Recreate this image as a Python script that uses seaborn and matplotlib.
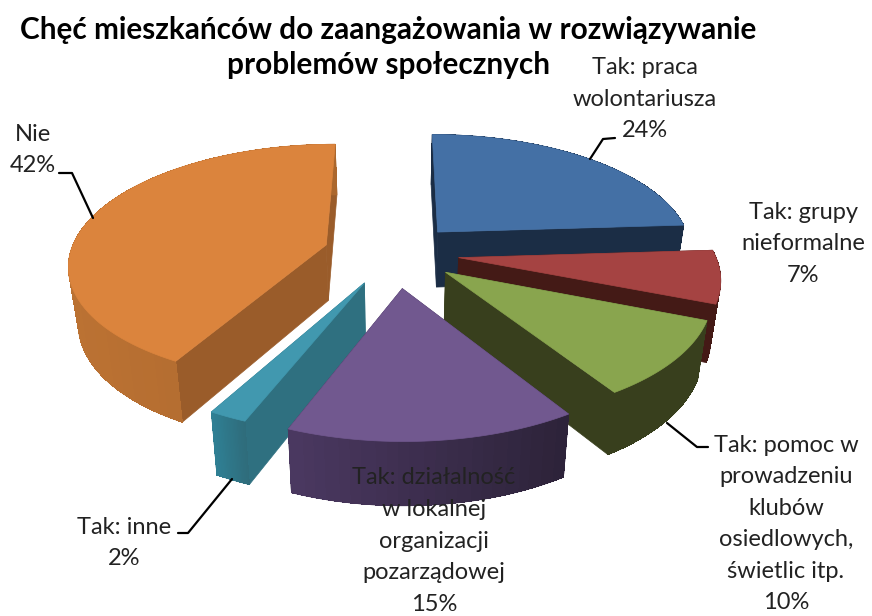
"""Exploded 3D pie of willingness to engage in solving social problems."""
import numpy as np
import matplotlib
matplotlib.use("Agg")
import matplotlib.pyplot as plt
import seaborn as sns

TITLE_LINES = [
    "Chęć mieszkańców do zaangażowania w rozwiązywanie",
    "problemów społecznych",
]
CATEGORIES = [
    "Tak: praca\nwolontariusza",
    "Tak: grupy\nnieformalne",
    "Tak: pomoc w\nprowadzeniu\nklubów\nosiedlowych,\nświetlic itp.",
    "Tak: działalność\nw lokalnej\norganizacji\npozarządowej",
    "Tak: inne",
    "Nie",
]
VALUES = [24, 7, 10, 15, 2, 42]
EXPLODE = [0.25, 0.25, 0.25, 0.29, 0.27, 0.28]

# Slice colours: top face, radial wall, rim wall left end, rim wall right end.
TOP_COLORS = ["#4470a5", "#a54342", "#89a54e", "#71588f", "#4198af", "#db843d"]
WALL_COLORS = ["#1b2d45", "#441a16", "#383f1d", "#3a2b4e", "#2f7080", "#9a5c2a"]
RIM_LEFT = ["#1b2d45", "#441a16", "#383f1d", "#4a3860", "#2f7f93", "#bb7233"]
RIM_RIGHT = ["#1b2d45", "#441a16", "#383f1d", "#2c2238", "#2f6b7a", "#aa662d"]

# Order the slices are painted in, back to front.
DRAW_ORDER = [0, 5, 1, 2, 4, 3]

# Label centres and leader lines, in picture pixels.
LABEL_POS = [(645, 99), (803, 244), (786, 524), (434, 541), (124, 543), (33, 150)]
LEADERS = [
    [(615, 138), (603, 139), (590, 159)],
    None,
    [(708, 447), (697, 447), (667, 423)],
    None,
    [(178, 533), (188, 533), (232, 479)],
    [(59, 173), (72, 173), (93, 218)],
]

CENTER_X, CENTER_Y = 395, 253
RADIUS_X, RADIUS_Y = 256, 118
TILT = 0.15
DEPTH = 56
BOTTOM_SHRINK = 0.97


def project(u, v, lowered=False):
    """Map points of the pie plane to the picture with a simple perspective."""
    denom = 1 + TILT * v
    x = RADIUS_X * u / denom
    y = RADIUS_Y * v / denom
    if lowered:
        x = x * BOTTOM_SHRINK
        y = y - DEPTH / (1 + 0.1 * v)
    return CENTER_X + x, CENTER_Y - y


def slice_points(start, end, explode, lowered=False):
    """Apex and rim of one slice, angles clockwise from twelve o'clock."""
    mid = (start + end) / 2
    off_u, off_v = explode * np.sin(mid), explode * np.cos(mid)
    angles = np.linspace(start, end, 80)
    apex = project(off_u, off_v, lowered)
    rim_x, rim_y = project(off_u + np.sin(angles), off_v + np.cos(angles), lowered)
    return apex, rim_x, rim_y


def draw_slice(ax, start, end, explode, top, wall, rim_left, rim_right):
    apex, rim_x, rim_y = slice_points(start, end, explode)
    low_apex, low_x, low_y = slice_points(start, end, explode, lowered=True)

    # Radial walls first, the rim and the top face go over them.
    for i in [0, -1]:
        ax.fill(
            [apex[0], rim_x[i], low_x[i], low_apex[0]],
            [apex[1], rim_y[i], low_y[i], low_apex[1]],
            color=wall,
            lw=0.5,
        )

    # Rim wall, shaded from left to right over a plain base so no seams show.
    shades = sns.blend_palette([rim_left, rim_right], n_colors=24)
    ax.fill(
        np.r_[rim_x, low_x[::-1]],
        np.r_[rim_y, low_y[::-1]],
        color=shades[12],
        lw=0.5,
    )
    span = rim_x.min(), rim_x.max()
    for i in range(len(rim_x) - 1):
        pos = ((rim_x[i] + rim_x[i + 1]) / 2 - span[0]) / (span[1] - span[0])
        ax.fill(
            [rim_x[i], rim_x[i + 1], low_x[i + 1], low_x[i]],
            [rim_y[i], rim_y[i + 1], low_y[i + 1], low_y[i]],
            facecolor=shades[int(pos * 23)],
            edgecolor="none",
            antialiased=False,
        )

    ax.fill(
        np.r_[apex[0], rim_x],
        np.r_[apex[1], rim_y],
        color=top,
        lw=0.5,
    )


sns.set_theme(style="white")
plt.rcParams["font.family"] = ["Lato", "DejaVu Sans"]

fig, ax = plt.subplots(figsize=(8.72, 6.16), dpi=100)
ax.set_position([0, 0, 1, 1])
ax.set_xlim(0, 872)
ax.set_ylim(616, 0)
ax.axis("off")

# Slice angles come straight from the values.
edges = np.r_[0, np.cumsum(VALUES)] / sum(VALUES) * 2 * np.pi

for idx in DRAW_ORDER:
    draw_slice(
        ax,
        edges[idx],
        edges[idx + 1],
        EXPLODE[idx],
        TOP_COLORS[idx],
        WALL_COLORS[idx],
        RIM_LEFT[idx],
        RIM_RIGHT[idx],
    )

for category, value, pos, leader in zip(CATEGORIES, VALUES, LABEL_POS, LEADERS):
    ax.text(
        pos[0],
        pos[1],
        f"{category}\n{value}%",
        ha="center",
        va="center",
        fontsize=17,
        linespacing=1.62,
        color="#222222",
    )
    if leader is not None:
        ax.plot(*zip(*leader), color="black", lw=1.6)

for line, y in zip(TITLE_LINES, [30, 65]):
    ax.text(
        388,
        y,
        line,
        ha="center",
        va="center",
        fontsize=21.4,
        fontweight="bold",
        color="black",
    )

fig.savefig("out.png", dpi=100)
